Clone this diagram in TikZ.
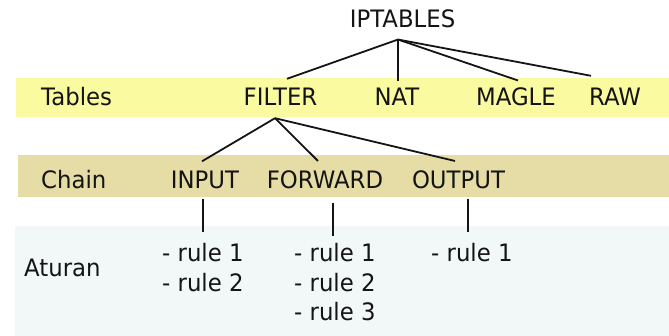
\documentclass[tikz,border=0pt]{standalone}
\usepackage{fontspec}
\setmainfont{DejaVu Sans}[FakeStretch=0.95]
\definecolor{tablesband}{RGB}{250,250,160}
\definecolor{chainband}{RGB}{229,220,166}
\definecolor{rulesband}{RGB}{242,247,248}
\definecolor{ink}{RGB}{20,20,20}
\tikzset{
  lbl/.style={anchor=base, inner sep=0pt, text=ink, font=\fontsize{24}{29}\selectfont},
  lblw/.style={lbl, anchor=base west},
  link/.style={draw=ink, line width=1.8pt}
}
\begin{document}
\begin{tikzpicture}[x=1pt, y=-1pt]
  \useasboundingbox (0,0) rectangle (669,336);
  % background bands
  \fill[tablesband] (16,78) rectangle (669,117);
  \fill[chainband] (18,155) rectangle (669,197);
  \fill[rulesband] (15,226) rectangle (669,336);

  % row labels
  \node[lblw] (tables) at (41,106) {Tables};
  \node[lblw] (chain) at (41,188.5) {Chain};
  \node[lblw] (aturan) at (24,277) {Aturan};

  % tree
  \node[lbl] (ipt) at (402.5,28) {IPTABLES};
  \node[lbl] (filter) at (280.5,105.5) {FILTER};
  \node[lbl] (nat) at (397,105.5) {NAT};
  \node[lbl] (magle) at (516,105.5) {MAGLE};
  \node[lbl] (raw) at (615,105.5) {RAW};

  \node[lbl] (input) at (205,189) {INPUT};
  \node[lbl] (forward) at (325,189) {FORWARD};
  \node[lbl] (output) at (458.5,189) {OUTPUT};

  % rules
  \node[lblw] (in1) at (162,262) {- rule 1};
  \node[lblw] (in2) at (162,292) {- rule 2};
  \node[lblw] (fw1) at (294,262) {- rule 1};
  \node[lblw] (fw2) at (294,292) {- rule 2};
  \node[lblw] (fw3) at (294,321) {- rule 3};
  \node[lblw] (out1) at (431,262) {- rule 1};

  % connectors: IPTABLES to tables
  \coordinate (iptHub) at ([xshift=-4.5pt,yshift=-11pt]ipt.south);
  \draw[link] (iptHub) -- ([xshift=6.5pt,yshift=9pt]filter.north);
  \draw[link] (iptHub) -- ([xshift=1pt,yshift=7pt]nat.north);
  \draw[link] (iptHub) -- ([xshift=2pt,yshift=7pt]magle.north);
  \draw[link] (iptHub) -- ([xshift=-24pt,yshift=12pt]raw.north);

  % connectors: FILTER to chains
  \coordinate (filterHub) at ([xshift=-5.5pt,yshift=-12.5pt]filter.south);
  \draw[link] (filterHub) -- ([xshift=-3pt,yshift=10pt]input.north);
  \draw[link] (filterHub) -- ([xshift=-7pt,yshift=10pt]forward.north);
  \draw[link] (filterHub) -- ([xshift=-3.5pt,yshift=10pt]output.north);

  % connectors: chains to rules
  \coordinate (inTop) at ([xshift=-2pt,yshift=-9pt]input.south);
  \coordinate (inEnd) at ([yshift=12pt]in1.north);
  \draw[link] (inTop) -- (inTop |- inEnd);
  \coordinate (fwTop) at ([xshift=8pt,yshift=-13pt]forward.south);
  \coordinate (fwEnd) at ([yshift=8pt]fw1.north);
  \draw[link] (fwTop) -- (fwTop |- fwEnd);
  \coordinate (outTop) at ([xshift=9.5pt,yshift=-9pt]output.south);
  \coordinate (outEnd) at ([yshift=12pt]out1.north);
  \draw[link] (outTop) -- (outTop |- outEnd);
\end{tikzpicture}
\end{document}
